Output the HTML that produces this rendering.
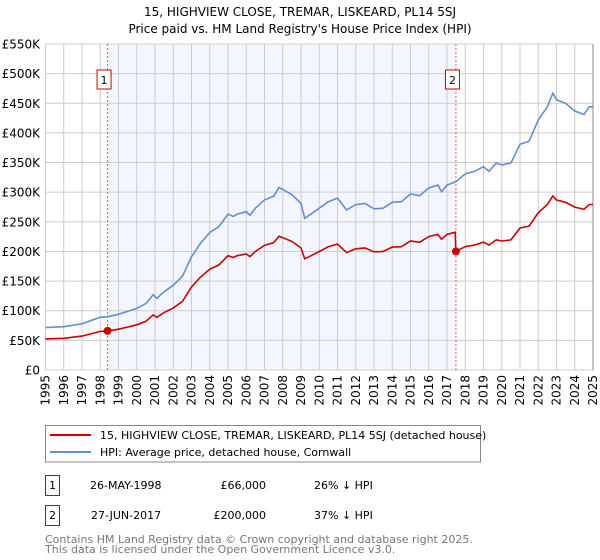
<!DOCTYPE html>
<html><head><meta charset="utf-8"><style>
body{margin:0;background:#fff;font-family:"DejaVu Sans","Liberation Sans",sans-serif;}
svg{display:block}
</style></head><body>
<svg id="c" width="600" height="560" viewBox="0 0 600 560" font-family="DejaVu Sans, Liberation Sans, sans-serif">
<text x="300" y="16" text-anchor="middle" font-size="12">15, HIGHVIEW CLOSE, TREMAR, LISKEARD, PL14 5SJ</text>
<text x="300" y="33" text-anchor="middle" font-size="12">Price paid vs. HM Land Registry's House Price Index (HPI)</text>
<g id="plot"></g>
<rect x="45.5" y="425.5" width="435" height="36.5" fill="#fff" stroke="#888"/>
<line x1="50" y1="435" x2="91" y2="435" stroke="#cc0000" stroke-width="2"/>
<text x="100" y="439" font-size="11">15, HIGHVIEW CLOSE, TREMAR, LISKEARD, PL14 5SJ (detached house)</text>
<line x1="50" y1="452" x2="91" y2="452" stroke="#6190d0" stroke-width="2"/>
<text x="100" y="456" font-size="11">HPI: Average price, detached house, Cornwall</text>
<rect x="45.5" y="475.5" width="14" height="20" fill="#fff" stroke="#cc0000"/>
<text x="52.5" y="489" font-size="11" text-anchor="middle">1</text>
<text x="90" y="489" font-size="11">26-MAY-1998</text>
<text x="266" y="489" font-size="11" text-anchor="end">£66,000</text>
<text x="314" y="489" font-size="11">26% ↓ HPI</text>
<rect x="45.5" y="505.5" width="14" height="20" fill="#fff" stroke="#cc0000"/>
<text x="52.5" y="519" font-size="11" text-anchor="middle">2</text>
<text x="91" y="519" font-size="11">27-JUN-2017</text>
<text x="266" y="519" font-size="11" text-anchor="end">£200,000</text>
<text x="314" y="519" font-size="11">37% ↓ HPI</text>
<text x="45" y="543" font-size="11" fill="#777">Contains HM Land Registry data © Crown copyright and database right 2025.</text>
<text x="45" y="553" font-size="11" fill="#777">This data is licensed under the Open Government Licence v3.0.</text>
</svg>
<script>
const yTicks=[0,50,100,150,200,250,300,350,400,450,500,550];
const yLabels=["£0","£50K","£100K","£150K","£200K","£250K","£300K","£350K","£400K","£450K","£500K","£550K"];
const xYears=[1995,1996,1997,1998,1999,2000,2001,2002,2003,2004,2005,2006,2007,2008,2009,2010,2011,2012,2013,2014,2015,2016,2017,2018,2019,2020,2021,2022,2023,2024,2025];
const hpiT=[1995,1996,1997,1998,1998.4,1999,2000,2000.5,2000.9,2001.1,2001.5,2002,2002.5,2003,2003.5,2004,2004.5,2005,2005.3,2005.5,2006,2006.2,2006.5,2007,2007.5,2007.8,2008.5,2009,2009.2,2009.5,2010,2010.5,2011,2011.5,2012,2012.5,2013,2013.5,2014,2014.5,2015,2015.5,2016,2016.5,2016.7,2017,2017.5,2018,2018.5,2019,2019.3,2019.7,2020,2020.5,2021,2021.5,2022,2022.5,2022.8,2023,2023.5,2024,2024.5,2024.8,2025];
const hpiV=[71.5,73,78,89,90,94,104,112,127,121,132,143,158,191,214,232,242,263,259,263,267,261,273,287,293,308,296,281,256,262,273,284,290,270,279,281,272,273,283,284,297,294,307,312,301,312,318,331,335,343,335,349,346,349,381,386,422,444,467,456,450,437,431,444,444];
const propT=[1995,1996,1997,1998,1998.4,1999,2000,2000.5,2000.9,2001.1,2001.5,2002,2002.5,2003,2003.5,2004,2004.5,2005,2005.3,2005.5,2006,2006.2,2006.5,2007,2007.5,2007.8,2008.5,2009,2009.2,2009.5,2010,2010.5,2011,2011.5,2012,2012.5,2013,2013.5,2014,2014.5,2015,2015.5,2016,2016.5,2016.7,2017,2017.45,2017.49,2018,2018.5,2019,2019.3,2019.7,2020,2020.5,2021,2021.5,2022,2022.5,2022.8,2023,2023.5,2024,2024.5,2024.8,2025];
const propV=[52.4,53.5,57.2,65.2,66,68.9,76.2,82.1,93,88.7,96.8,104.8,115.8,140,156.9,170,177.4,192.8,189.8,192.8,195.7,191.3,200,210.4,214.8,225.8,217,206,187.6,192,200,208,212.6,198,204.5,206,199.4,200,207.4,208,217.7,215.5,225,228.7,220.6,228.7,232.4,200,208.2,210.7,215.7,210.7,219.5,217.6,219.5,239.6,242.8,265.4,279.3,293.7,286.8,283,274.9,271.1,279.3,279.3];
const saleT=[1998.4,2017.49];
const saleV=[66,200];
const saleLabels=["1","2"];
const X0=45.5,X1=593,Y0=370,Y1=44;
const xs=t=>X0+(t-1995)/(2025-1995)*(X1-X0);
const ys=v=>Y0-v/550*(Y0-Y1);
const NS="http://www.w3.org/2000/svg";
const g=document.getElementById('plot');
function mk(tag,attrs){const e=document.createElementNS(NS,tag);for(const k in attrs)e.setAttribute(k,attrs[k]);g.appendChild(e);return e;}
let e=mk('rect',{x:xs(saleT[0]),y:Y1,width:xs(saleT[1])-xs(saleT[0]),height:Y0-Y1,fill:'#f3f6fe'});


xYears.forEach(yr=>{
 const x=xs(yr);
 let l=mk('line',{x1:x,y1:Y1,x2:x,y2:Y0,stroke:'#cccccc','stroke-width':1});
 
 
 let t=mk('text',{x:0,y:0,'font-size':12,'text-anchor':'end',transform:`translate(${x+4},${Y0+5}) rotate(-90)`});
 t.textContent=yr;
 
 
});
yTicks.forEach((v,i)=>{
 const y=ys(v);
 let l=mk('line',{x1:X0,y1:y,x2:X1,y2:y,stroke:'#cccccc','stroke-width':1});
 
 
 let t=mk('text',{x:40,y:y+4.5,'font-size':12,'text-anchor':'end'});
 t.textContent=yLabels[i];
 
 
});
let rb=mk('line',{x1:X1,y1:Y1,x2:X1,y2:Y0,stroke:'#888','stroke-width':1});


saleT.forEach((t,i)=>{
 const x=xs(t);
 let l=mk('line',{x1:x,y1:Y1,x2:x,y2:Y0,stroke:'#e06060','stroke-width':1,'stroke-dasharray':'2,2'});
 
 
 let b=mk('rect',{x:x-10.5,y:70,width:14,height:19,fill:'#fff',stroke:'#cc0000'});
 
 
 let tx=mk('text',{x:x-3.5,y:84,'font-size':11,'text-anchor':'middle'});
 tx.textContent=saleLabels[i];
 
 
});
const path=(T,V)=>T.map((t,i)=>(i?'L':'M')+xs(t).toFixed(1)+','+ys(V[i]).toFixed(1)).join('');
let hp=mk('path',{d:path(hpiT,hpiV),fill:'none',stroke:'#6190d0','stroke-width':1.6});


let pp=mk('path',{d:path(propT,propV),fill:'none',stroke:'#cc0000','stroke-width':1.6});


saleT.forEach((t,i)=>{
 let c=mk('circle',{cx:xs(t),cy:ys(saleV[i]),r:4,fill:'#cc0000'});
 
 
});
</script>
</body></html>
